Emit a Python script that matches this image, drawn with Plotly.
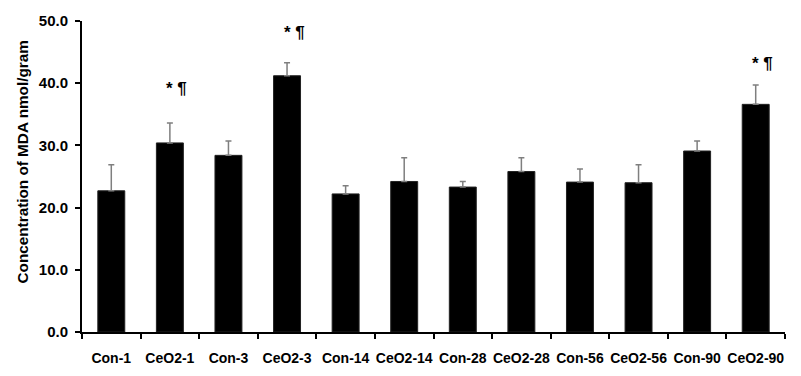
import plotly.graph_objects as go

categories = ["Con-1", "CeO2-1", "Con-3", "CeO2-3", "Con-14", "CeO2-14",
              "Con-28", "CeO2-28", "Con-56", "CeO2-56", "Con-90", "CeO2-90"]
values = [22.7, 30.4, 28.4, 41.2, 22.2, 24.2, 23.3, 25.8, 24.1, 24.0, 29.1, 36.6]
errors = [4.2, 3.2, 2.3, 2.1, 1.3, 3.8, 0.9, 2.2, 2.1, 2.9, 1.6, 3.1]
sig_labels = ["CeO2-1", "CeO2-3", "CeO2-90"]
sig_y = [39.2, 48.2, 43.2]
y_ticks = [0, 10, 20, 30, 40, 50]
y_ticktext = ["0.0", "10.0", "20.0", "30.0", "40.0", "50.0"]
y_title = "Concentration of MDA nmol/gram"

FONT = "Liberation Sans, Arial, sans-serif"

fig = go.Figure()
fig.add_trace(go.Bar(
    x=categories, y=values,
    marker=dict(color="black", line=dict(color="#222222", width=1)),
    error_y=dict(type="data", symmetric=False, array=errors,
                 arrayminus=[0] * len(errors),
                 color="#7f7f7f", thickness=1.5, width=3),
))

for c, yv in zip(sig_labels, sig_y):
    fig.add_annotation(x=c, y=yv, text="<b>* ¶</b>", showarrow=False,
                       xshift=7, font=dict(family=FONT, size=17, color="black"))

# y-axis title sits above the axis centre in the reference, so place it as an annotation
fig.add_annotation(xref="paper", yref="paper", x=0, y=0.545, xshift=-59,
                   xanchor="center", yanchor="middle", textangle=-90,
                   text="<b>%s</b>" % y_title, showarrow=False,
                   font=dict(family=FONT, size=15.3, color="black"))

# page body has an 8px margin: compensate so the plot lands where the reference has it
fig.update_layout(
    width=801, height=376,
    margin=dict(l=74, r=24, t=13, b=52, autoexpand=False),
    paper_bgcolor="white", plot_bgcolor="white",
    bargap=0.54, showlegend=False,
    font=dict(family=FONT, color="black"),
)
fig.update_xaxes(
    type="category", showline=True, linecolor="black", linewidth=2,
    ticks="outside", tickson="boundaries", ticklen=5, tickcolor="black", tickwidth=2,
    tickangle=0, automargin=False, ticklabelstandoff=12,
    tickfont=dict(family=FONT, size=14, color="black"),
    tickprefix="<b>", ticksuffix="</b>", showgrid=False,
)
fig.update_yaxes(
    range=[0, 50], tickvals=y_ticks, ticktext=["<b>%s</b>" % t for t in y_ticktext],
    showline=True, linecolor="black", linewidth=2, automargin=False,
    ticks="outside", ticklen=5, tickcolor="black", tickwidth=2, ticklabelstandoff=4,
    tickfont=dict(family=FONT, size=15, color="black"),
    showgrid=False, zeroline=False,
)

fig.write_html("out.html")
